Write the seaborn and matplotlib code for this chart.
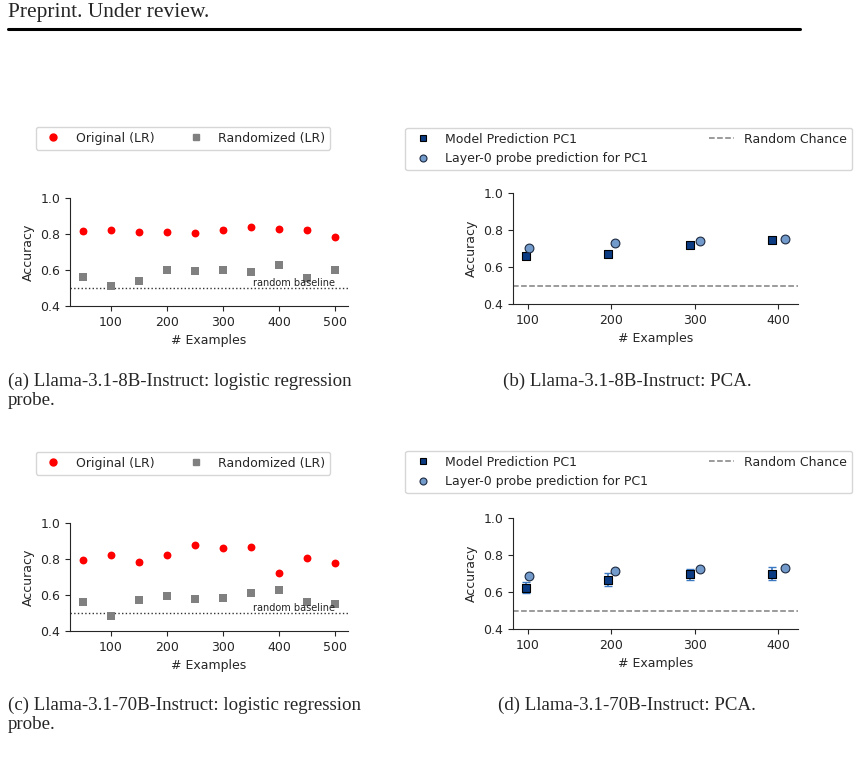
import pandas as pd
import matplotlib
matplotlib.use("Agg")
import matplotlib.pyplot as plt
from matplotlib.lines import Line2D
import seaborn as sns

# ---------------- data ----------------
lr_examples = [50, 100, 150, 200, 250, 300, 350, 400, 450, 500]

orig_8b = [0.814, 0.822, 0.811, 0.812, 0.807, 0.825, 0.840, 0.829, 0.825, 0.783]
rand_8b = [0.562, 0.513, 0.537, 0.602, 0.595, 0.601, 0.591, 0.627, 0.554, 0.601]
orig_70b = [0.796, 0.824, 0.781, 0.822, 0.876, 0.863, 0.867, 0.724, 0.804, 0.776]
rand_70b = [0.561, 0.485, 0.574, 0.596, 0.578, 0.583, 0.609, 0.628, 0.559, 0.550]
lr_err = [0.006] * 10

pca_examples = [100, 200, 300, 400]
model_pc1_8b = [0.661, 0.670, 0.717, 0.746]
model_pc1_8b_err = [0.008, 0.008, 0.008, 0.008]
probe_pc1_8b = [0.701, 0.730, 0.742, 0.750]
model_pc1_70b = [0.622, 0.667, 0.696, 0.699]
model_pc1_70b_err = [0.030, 0.034, 0.031, 0.034]
probe_pc1_70b = [0.687, 0.713, 0.724, 0.731]

captions = [
    "(a) Llama-3.1-8B-Instruct: logistic regression\nprobe.",
    "(b) Llama-3.1-8B-Instruct: PCA.",
    "(c) Llama-3.1-70B-Instruct: logistic regression\nprobe.",
    "(d) Llama-3.1-70B-Instruct: PCA.",
]

sns.set_style("ticks")
plt.rcParams["font.family"] = ["DejaVu Sans"]
plt.rcParams["font.size"] = 9

W, H = 860, 759
fig = plt.figure(figsize=(W / 100, H / 100), dpi=100)


def px_axes(left, top, right, bottom):
    return fig.add_axes([left / W, 1 - bottom / H, (right - left) / W, (bottom - top) / H])


def lr_panel(ax, orig, rand, legend_bottom):
    df = pd.DataFrame({"n": lr_examples, "orig": orig, "rand": rand, "err": lr_err})
    ax.errorbar(df["n"], df["orig"], yerr=df["err"], fmt="none", ecolor="red",
                elinewidth=1.2, capsize=2.5, zorder=2)
    ax.errorbar(df["n"], df["rand"], yerr=df["err"], fmt="none", ecolor="gray",
                elinewidth=1.2, capsize=2.5, zorder=2)
    sns.scatterplot(data=df, x="n", y="orig", color="red", marker="o", s=32,
                    linewidth=0, ax=ax, zorder=3)
    sns.scatterplot(data=df, x="n", y="rand", color="gray", marker="s", s=28,
                    linewidth=0, ax=ax, zorder=3)
    ax.axhline(0.5, color="#333333", ls=":", lw=1)
    ax.text(500, 0.502, "random baseline", fontsize=7, ha="right", va="bottom", color="#222222")
    ax.set_ylim(0.4, 1.0)
    ax.set_xlim(27.5, 522.5)
    ax.set_yticks([0.4, 0.6, 0.8, 1.0])
    ax.set_xticks([100, 200, 300, 400, 500])
    ax.set_xlabel("# Examples")
    ax.set_ylabel("Accuracy")
    sns.despine(ax=ax)
    handles = [
        Line2D([], [], color="red", marker="o", ls="none", markersize=5),
        Line2D([], [], color="gray", marker="s", ls="none", markersize=5),
    ]
    ax.legend(handles, ["Original (LR)", "Randomized (LR)"], ncol=2,
              loc="lower center", bbox_to_anchor=(183 / W, 1 - legend_bottom / H),
              bbox_transform=fig.transFigure, columnspacing=2.3, fontsize=9)


def pca_panel(ax, model, model_err, probe, legend_top, legend_bottom):
    df = pd.DataFrame({"n": pca_examples, "model": model, "err": model_err, "probe": probe})
    df["x_model"] = df["n"] * 0.98
    df["x_probe"] = df["n"] * 1.02
    ax.errorbar(df["x_model"], df["model"], yerr=df["err"], fmt="none", ecolor="#3a78c2",
                elinewidth=1.2, capsize=3, zorder=2)
    sns.scatterplot(data=df, x="x_model", y="model", color="#0b3b82", marker="s", s=40,
                    edgecolor="black", linewidth=0.8, ax=ax, zorder=3)
    sns.scatterplot(data=df, x="x_probe", y="probe", color="#729acb", marker="o", s=40,
                    edgecolor="#1e2a40", linewidth=0.8, ax=ax, zorder=3)
    ax.axhline(0.5, color="gray", ls="--", lw=1.1)
    ax.set_ylim(0.4, 1.0)
    ax.set_xlim(82.5, 423.5)
    ax.set_yticks([0.4, 0.6, 0.8, 1.0])
    ax.set_xticks(pca_examples)
    ax.set_xlabel("# Examples")
    ax.set_ylabel("Accuracy")
    sns.despine(ax=ax)
    handles = [
        Line2D([], [], color="#0b3b82", marker="s", ls="none", markersize=5,
               markeredgecolor="black", markeredgewidth=0.8),
        Line2D([], [], color="#729acb", marker="o", ls="none", markersize=5,
               markeredgecolor="#1e2a40", markeredgewidth=0.8),
        Line2D([], [], color="gray", ls="--", lw=1.1),
    ]
    labels = ["Model Prediction PC1", "Layer-0 probe prediction for PC1", "Random Chance"]
    ax.legend(handles, labels, ncol=2, mode="expand", loc="lower left",
              bbox_to_anchor=(405 / W, 1 - legend_bottom / H, 447 / W, (legend_bottom - legend_top) / H),
              bbox_transform=fig.transFigure, fontsize=9, borderaxespad=0)


ax_a = px_axes(70, 198, 348, 306)
lr_panel(ax_a, orig_8b, rand_8b, 156)
ax_c = px_axes(70, 523, 348, 631)
lr_panel(ax_c, orig_70b, rand_70b, 481)
ax_b = px_axes(513, 193, 798, 304)
pca_panel(ax_b, model_pc1_8b, model_pc1_8b_err, probe_pc1_8b, 126, 170)
ax_d = px_axes(513, 518, 798, 629)
pca_panel(ax_d, model_pc1_70b, model_pc1_70b_err, probe_pc1_70b, 452, 493)

# page header and captions
serif = ["Liberation Serif", "DejaVu Serif"]
fig.text(8 / W, 1 - 13 / H, "Preprint. Under review.", family=serif, fontsize=15.5,
         ha="left", va="center")
fig.add_artist(Line2D([8 / W, 800 / W], [1 - 29 / H, 1 - 29 / H], color="black", lw=2.2))

cap_pos = [(8, 373), (503, 373), (8, 697), (498, 697)]
for (cx, cy), cap in zip(cap_pos, captions):
    fig.text(cx / W, 1 - cy / H, cap, family=serif, fontsize=13.6, ha="left", va="top",
             linespacing=1.1, transform=fig.transFigure)

fig.savefig("out.png", dpi=100)
